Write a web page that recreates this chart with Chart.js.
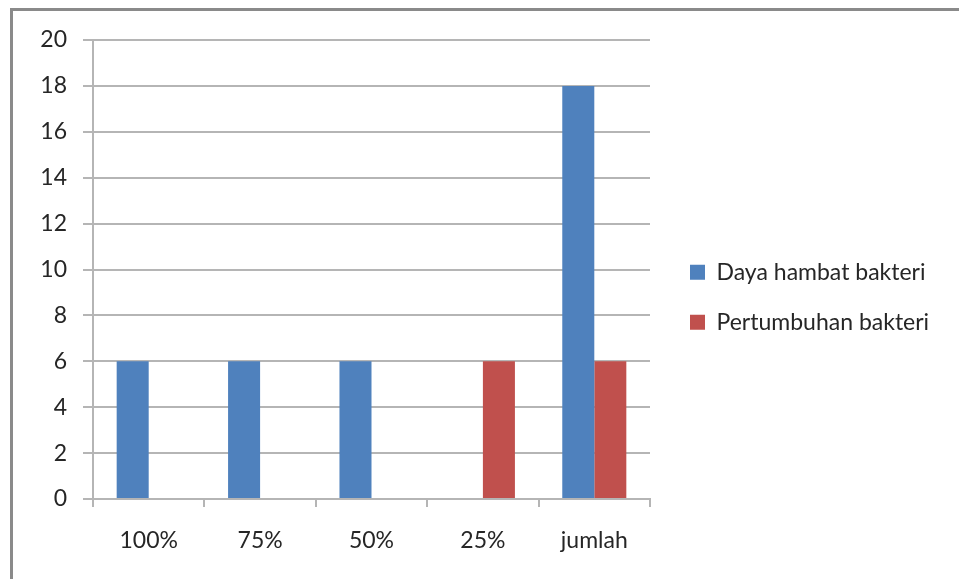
<!DOCTYPE html>
<html>
<head>
<meta charset="utf-8">
<script src="https://cdn.jsdelivr.net/npm/chart.js@4/dist/chart.umd.min.js"></script>
<style>
  html, body { margin: 0; padding: 0; background: #ffffff; font-family: Lato; }
  #wrap { position: relative; width: 959px; height: 579px; overflow: hidden; }
  #frame { position: absolute; left: 10px; top: 8px; width: 960px; height: 580px;
           border-left: 3px solid #8a8a8a; border-top: 3px solid #8a8a8a; }
  canvas { position: absolute; left: 0; top: 0; }
</style>
</head>
<body>
<div id="wrap">
  <div id="frame"></div>
  <canvas id="c" width="959" height="579"></canvas>
</div>
<script>
const categories = ["100%", "75%", "50%", "25%", "jumlah"];
const seriesNames = ["Daya hambat bakteri", "Pertumbuhan bakteri"];
const dayaHambat = [6, 6, 6, 0, 18];
const pertumbuhan = [0, 0, 0, 6, 6];
const yMin = 0, yMax = 20, yStep = 2;

const FONT = "Lato";
const FSIZE = 23;
const gridColor = "#b5b5b5";
const textColor = "#262626";

const PAD_LEFT = 20, PAD_TOP = 40, PAD_BOTTOM = 24.6;
const PLOT_LEFT = 93, PLOT_RIGHT = 650, PLOT_BOTTOM = 499;
const LEGEND_SHIFT = 13;

const legendShift = {
  id: "legendShift",
  afterLayout(chart) {
    const l = chart.legend;
    if (l) { l.left += LEGEND_SHIFT; l.right += LEGEND_SHIFT; }
  }
};

function draw() {
  const cfg = {
    type: "bar",
    data: {
      labels: categories,
      datasets: [
        { label: seriesNames[0], data: dayaHambat, backgroundColor: "#4f81bd", borderWidth: 0,
          categoryPercentage: 0.575, barPercentage: 1.0 },
        { label: seriesNames[1], data: pertumbuhan, backgroundColor: "#c0504d", borderWidth: 0,
          categoryPercentage: 0.575, barPercentage: 1.0 }
      ]
    },
    options: {
      responsive: false,
      animation: false,
      layout: { padding: { left: PAD_LEFT, top: PAD_TOP, bottom: PAD_BOTTOM, right: 0 } },
      plugins: {
        tooltip: { enabled: false },
        legend: {
          position: "right",
          align: "center",
          maxWidth: 600,
          labels: {
            font: { family: FONT, size: FSIZE },
            color: textColor,
            boxWidth: 15,
            boxHeight: 15,
            padding: 27
          }
        }
      },
      scales: {
        x: {
          grid: { drawOnChartArea: false, drawTicks: true, tickLength: 8, color: gridColor, lineWidth: 2, offset: true },
          border: { color: gridColor, width: 2 },
          ticks: { font: { family: FONT, size: FSIZE }, color: textColor, padding: 20, maxRotation: 0 },
          afterFit(scale) { scale.height = 579 - PAD_BOTTOM - PLOT_BOTTOM; }
        },
        y: {
          min: yMin, max: yMax,
          grid: { color: gridColor, lineWidth: 2, tickLength: 10 },
          border: { color: gridColor, width: 2 },
          ticks: { stepSize: yStep, font: { family: FONT, size: FSIZE }, color: textColor, padding: 16 },
          afterFit(scale) { scale.width = PLOT_LEFT - PAD_LEFT; }
        }
      }
    },
    plugins: [legendShift]
  };

  const chart = new Chart(document.getElementById("c"), cfg);
  const lw = chart.legend.width;
  chart.options.layout.padding.right = Math.max(0, 959 - PLOT_RIGHT - lw);
  chart.update();
}

if (document.fonts && document.fonts.load) {
  document.fonts.load(FSIZE + "px " + FONT).then(draw, draw);
} else {
  draw();
}
</script>
</body>
</html>
